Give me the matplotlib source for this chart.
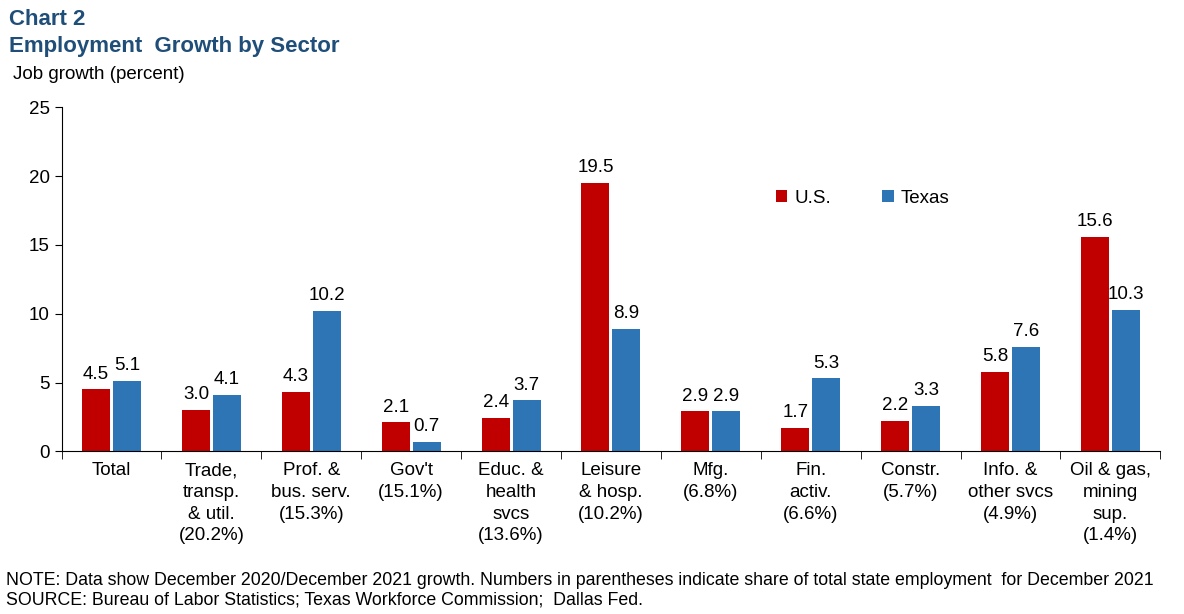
import matplotlib
matplotlib.use("Agg")
import matplotlib.pyplot as plt
import numpy as np

categories = ["Total", "Trade,\ntransp.\n& util.\n(20.2%)", "Prof. &\nbus. serv.\n(15.3%)",
              "Gov't\n(15.1%)", "Educ. &\nhealth\nsvcs\n(13.6%)", "Leisure\n& hosp.\n(10.2%)",
              "Mfg.\n(6.8%)", "Fin.\nactiv.\n(6.6%)", "Constr.\n(5.7%)",
              "Info. &\nother svcs\n(4.9%)", "Oil & gas,\nmining\nsup.\n(1.4%)"]
us = [4.5, 3.0, 4.3, 2.1, 2.4, 19.5, 2.9, 1.7, 2.2, 5.8, 15.6]
texas = [5.1, 4.1, 10.2, 0.7, 3.7, 8.9, 2.9, 5.3, 3.3, 7.6, 10.3]

plt.rcParams['font.family'] = ['Liberation Sans', 'DejaVu Sans']
fig = plt.figure(figsize=(11.84, 6.14), dpi=100)
ax = fig.add_axes([0.052, 0.265, 0.928, 0.56])
x = np.arange(len(categories))
w = 0.28
gap = 0.03
b1 = ax.bar(x - w/2 - gap/2, us, w, color="#C00000", label="U.S.")
b2 = ax.bar(x + w/2 + gap/2, texas, w, color="#2E75B6", label="Texas")
for bars in (b1, b2):
    for b in bars:
        ax.text(b.get_x() + b.get_width()/2, b.get_height() + 0.5, f"{b.get_height():.1f}",
                ha="center", va="bottom", fontsize=13.5)
ax.set_xlim(-0.5, len(categories) - 0.5)
ax.set_ylim(0, 25)
ax.set_yticks(range(0, 26, 5))
ax.set_xticks(x)
ax.set_xticklabels(categories, fontsize=13.5, linespacing=1.35)
ax.tick_params(axis='y', labelsize=13.5, length=5, direction='out')
ax.tick_params(axis='x', length=0, pad=8)
ax.set_xticks(np.arange(-0.5, len(categories), 1), minor=True)
ax.tick_params(axis='x', which='minor', length=6)
for s in ("top", "right"):
    ax.spines[s].set_visible(False)
ax.legend(loc="upper left", bbox_to_anchor=(0.635, 0.81), ncol=2, frameon=False,
          fontsize=13.5, handlelength=0.6, handleheight=0.6, columnspacing=2.7, handletextpad=0.4)
fig.text(0.008, 0.968, "Chart 2", fontsize=16, fontweight="bold", color="#1F4E79", va="center")
fig.text(0.008, 0.924, "Employment  Growth by Sector", fontsize=16, fontweight="bold", color="#1F4E79", va="center")
fig.text(0.011, 0.878, "Job growth (percent)", fontsize=13.5, va="center")
fig.text(0.005, 0.054, "NOTE: Data show December 2020/December 2021 growth. Numbers in parentheses indicate share of total state employment  for December 2021",
         fontsize=12.8, va="center")
fig.text(0.005, 0.022, "SOURCE: Bureau of Labor Statistics; Texas Workforce Commission;  Dallas Fed.", fontsize=12.8, va="center")
fig.savefig("out.png", dpi=100)
